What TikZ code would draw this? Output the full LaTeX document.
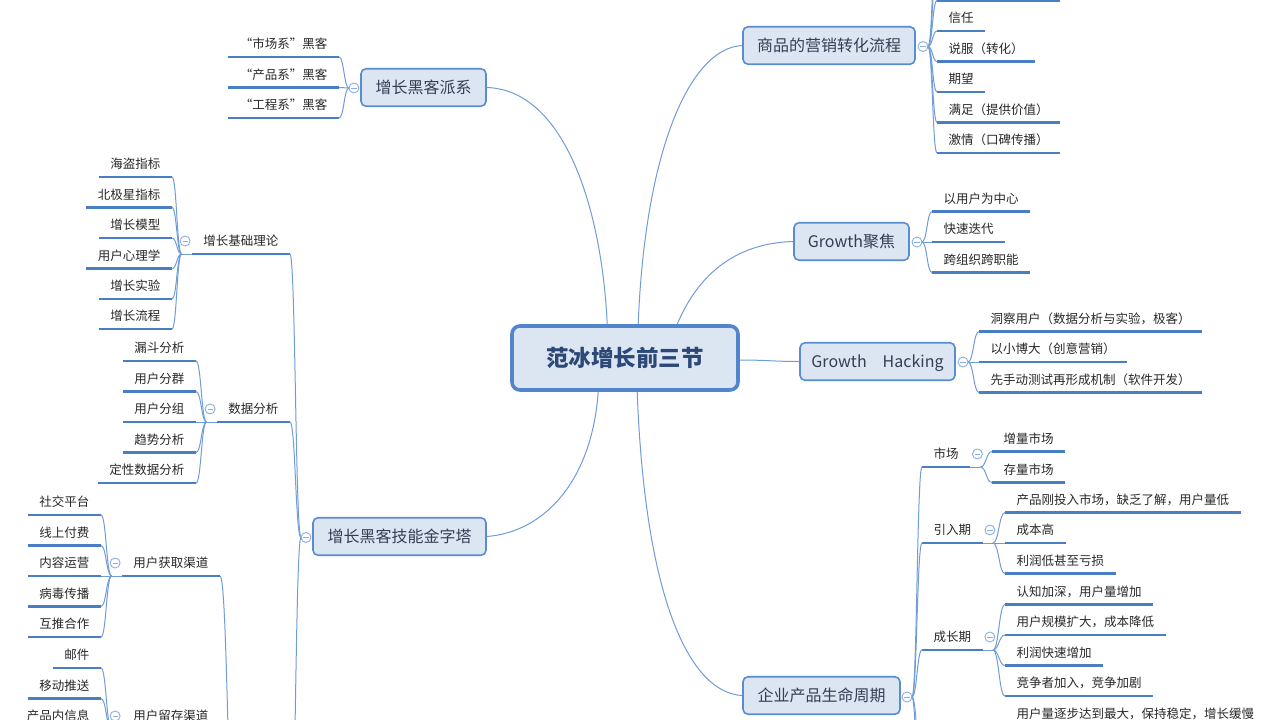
\documentclass[tikz,border=0pt]{standalone}
\usepackage{fontspec}
\setmainfont{Noto Sans CJK SC}
\usetikzlibrary{calc}
\definecolor{conncol}{RGB}{112,156,216}
\definecolor{ulinecol}{RGB}{74,126,196}
\definecolor{boxfill}{RGB}{220,230,243}
\definecolor{boxline}{RGB}{90,140,210}
\definecolor{boxtext}{RGB}{52,62,82}
\definecolor{ctext}{RGB}{45,72,118}
\definecolor{cline}{RGB}{82,133,205}
\definecolor{leaftext}{RGB}{40,40,40}
\definecolor{circcol}{RGB}{140,175,225}
\newcommand\leaffont{\fontsize{12.5pt}{15pt}\selectfont}
\newcommand\boxfont{\fontsize{16pt}{19pt}\selectfont}
\newcommand\centfont{\fontsize{22.5pt}{26pt}\selectfont\bfseries}
\tikzset{
 leaf/.style={font=\leaffont, text=leaftext, inner xsep=11.5pt, inner ysep=7.25pt, text height=10.5pt, text depth=1pt},
 uline/.style={draw=ulinecol, line width=2.8pt},
 conn/.style={draw=conncol, line width=1pt},
 topic/.style={rounded corners=5pt, draw=boxline, line width=1.6pt, fill=boxfill, font=\boxfont, text=boxtext, minimum height=37.5pt, inner sep=0pt, text height=14pt, text depth=1.8pt},
 centre/.style={rounded corners=8pt, draw=cline, line width=3.6pt, fill=boxfill, font=\centfont, text=ctext, inner sep=0pt, text height=19.5pt, text depth=2.4pt},
 coll/.style={circle, draw=circcol, fill=white, line width=0.9pt, minimum size=10pt, inner sep=0pt,
   path picture={\draw[circcol, line width=0.9pt] ([xshift=-2.6pt]path picture bounding box.center) -- ([xshift=2.6pt]path picture bounding box.center);}},
}
\newcommand\leafL[4]{\node[leaf, anchor=south east] (#1) at (#2,#3) {#4}; \draw[uline] (#1.south west) -- (#1.south east);}
\newcommand\leafR[4]{\node[leaf, anchor=south west] (#1) at (#2,#3) {#4}; \draw[uline] (#1.south west) -- (#1.south east);}
\newcommand\brk[2]{\draw[conn] let \p1=(#1), \p2=(#2) in (\p1) .. controls ({0.5*\x1+0.5*\x2},\y1) and ({0.5*\x1+0.5*\x2},\y2) .. (\p2);}
\begin{document}
\begin{tikzpicture}[x=1pt,y=-1pt]
\useasboundingbox (0,0) rectangle (1280,720);
\fill[white] (0,0) rectangle (1280,720);
\clip (0,0) rectangle (1280,720);

% central and main topics
\node[centre, minimum width=226pt, minimum height=64pt] (C) at (625,358) {范冰增长前三节};
\node[topic, minimum width=125pt] (B1) at (423.5,87.5) {增长黑客派系};
\node[topic, minimum width=172pt] (B2) at (829,45.5) {商品的营销转化流程};
\node[topic, minimum width=115pt] (B3) at (851.5,241.5) {Growth聚焦};
\node[topic, minimum width=155pt] (B4) at (877.5,361.5) {Growth　Hacking};
\node[topic, minimum width=173pt] (B5) at (399.5,536.5) {增长黑客技能金字塔};
\node[topic, minimum width=157pt] (B6) at (821.5,695.5) {企业产品生命周期};

\draw[conn] ([xshift=97pt]C.north west) .. controls (602,210) and (565,90) .. (B1.east);
\draw[conn] ([xshift=128pt]C.north west) .. controls (645,150) and (690,48) .. (B2.west);
\draw[conn] ([xshift=167pt]C.north west) .. controls (700,270) and (740,243) .. (B3.west);
\draw[conn] ([yshift=-2pt]C.east) .. controls (765,360) and (775,361.5) .. (B4.west);
\draw[conn] ([xshift=88pt]C.south west) .. controls (592,480) and (545,532) .. (B5.east);
\draw[conn] ([xshift=127pt]C.south west) .. controls (645,600) and (690,693) .. (B6.west);

% collapse circles of main topics
\node[coll] (k1) at (354,88) {};
\node[coll] (k2) at (923,46.5) {};
\node[coll] (k3) at (917,242) {};
\node[coll] (k4) at (963,362) {};
\node[coll] (k5) at (306,537.5) {};
\node[coll] (k6) at (907,697) {};
\coordinate (j1) at (349,88);
\coordinate (j2) at (928,46.5);
\coordinate (j3) at (922,242);
\coordinate (j4) at (968,362);
\coordinate (j5) at (301,537.5);
\coordinate (j6) at (912,697);

% B1
\leafL{a1}{339}{57}{“市场系”黑客}
\leafL{a2}{339}{87.5}{“产品系”黑客}
\leafL{a3}{339}{118}{“工程系”黑客}
\brk{j1}{a1.south east}
\brk{j1}{a2.south east}
\brk{j1}{a3.south east}

% B2
\coordinate (b0) at (937,0.5); \coordinate (b0e) at (1060,0.5);
\draw[uline] (b0) -- (b0e);
\coordinate (bm1) at (937,-30); \coordinate (bm2) at (937,-60.5);
\leafR{b1}{937}{31}{信任}
\leafR{b2}{937}{61.5}{说服（转化）}
\leafR{b3}{937}{92}{期望}
\leafR{b4}{937}{122.5}{满足（提供价值）}
\leafR{b5}{937}{153}{激情（口碑传播）}
\brk{j2}{bm2}
\brk{j2}{bm1}
\brk{j2}{b0}
\brk{j2}{b1.south west}
\brk{j2}{b2.south west}
\brk{j2}{b3.south west}
\brk{j2}{b4.south west}
\brk{j2}{b5.south west}

% B3
\leafR{g1}{932}{211.5}{以用户为中心}
\leafR{g2}{932}{242}{快速迭代}
\leafR{g3}{932}{272.5}{跨组织跨职能}
\brk{j3}{g1.south west}
\brk{j3}{g2.south west}
\brk{j3}{g3.south west}

% B4
\leafR{h1}{979}{331.5}{洞察用户（数据分析与实验，极客）}
\leafR{h2}{979}{362}{以小博大（创意营销）}
\leafR{h3}{979}{392.5}{先手动测试再形成机制（软件开发）}
\brk{j4}{h1.south west}
\brk{j4}{h2.south west}
\brk{j4}{h3.south west}

% B5
\leafL{s1}{290}{254}{增长基础理论}
\leafL{s2}{290}{422}{数据分析}
\coordinate (s9) at (290,860);
\brk{j5}{s1.south east}
\brk{j5}{s2.south east}
\brk{j5}{s9}

% s1 children
\node[coll] (k7) at ([xshift=-6.5pt,yshift=13pt]s1.south west) {};
\coordinate (q1) at ([xshift=-10pt]s1.south west);
\draw[conn] (q1) -- (s1.south west);
\leafL{t1}{172}{177}{海盗指标}
\leafL{t2}{172}{207.5}{北极星指标}
\leafL{t3}{172}{238}{增长模型}
\leafL{t4}{172}{268.5}{用户心理学}
\leafL{t5}{172}{299}{增长实验}
\leafL{t6}{172}{329}{增长流程}
\foreach \nd in {t1,t2,t3,t4,t5,t6}{\brk{q1}{\nd.south east}}

% s2 children
\node[coll] (k8) at ([xshift=-6.5pt,yshift=13pt]s2.south west) {};
\coordinate (q2) at ([xshift=-10pt]s2.south west);
\draw[conn] (q2) -- (s2.south west);
\leafL{d1}{196}{361}{漏斗分析}
\leafL{d2}{196}{391.5}{用户分群}
\leafL{d3}{196}{422}{用户分组}
\leafL{d4}{196}{452.5}{趋势分析}
\leafL{d5}{196}{483}{定性数据分析}
\foreach \nd in {d1,d2,d3,d4,d5}{\brk{q2}{\nd.south east}}

% s3
\leafL{s3}{220}{576}{用户获取渠道}
\coordinate (s3p) at (236,880);
\brk{s3p}{s3.south east}
\node[coll] (k9) at ([xshift=-6.5pt,yshift=13pt]s3.south west) {};
\coordinate (q3) at ([xshift=-10pt]s3.south west);
\draw[conn] (q3) -- (s3.south west);
\leafL{u1}{101}{515}{社交平台}
\leafL{u2}{101}{545.5}{线上付费}
\leafL{u3}{101}{576}{内容运营}
\leafL{u4}{101}{606.5}{病毒传播}
\leafL{u5}{101}{637}{互推合作}
\foreach \nd in {u1,u2,u3,u4,u5}{\brk{q3}{\nd.south east}}

% s4
\leafL{s4}{220}{729}{用户留存渠道}
\node[coll] (k10) at ([xshift=-6.5pt,yshift=13pt]s4.south west) {};
\coordinate (q4) at ([xshift=-10pt]s4.south west);
\draw[conn] (q4) -- (s4.south west);
\leafL{v1}{101}{668}{邮件}
\leafL{v2}{101}{698.5}{移动推送}
\leafL{v3}{101}{729}{产品内信息}
\foreach \nd in {v1,v2,v3}{\brk{q4}{\nd.south east}}

% B6
\leafR{m1}{922}{467}{市场}
\leafR{m2}{922}{543}{引入期}
\leafR{m3}{922}{650}{成长期}
\coordinate (m4) at (922,772);
\coordinate (m5) at (922,880);
\foreach \nd in {m1,m2,m3}{\brk{j6}{\nd.south west}}
\brk{j6}{m4}
\brk{j6}{m5}

% m1
\node[coll] (k11) at ([xshift=7pt,yshift=13pt]m1.south east) {};
\coordinate (r1) at ([xshift=10pt]m1.south east);
\draw[conn] (m1.south east) -- (r1);
\leafR{e1}{992}{451.5}{增量市场}
\leafR{e2}{992}{482.5}{存量市场}
\foreach \nd in {e1,e2}{\brk{r1}{\nd.south west}}

% m2
\node[coll] (k12) at ([xshift=7pt,yshift=13pt]m2.south east) {};
\coordinate (r2) at ([xshift=10pt]m2.south east);
\draw[conn] (m2.south east) -- (r2);
\leafR{f1}{1005}{512.5}{产品刚投入市场，缺乏了解，用户量低}
\leafR{f2}{1005}{543}{成本高}
\leafR{f3}{1005}{573.5}{利润低甚至亏损}
\foreach \nd in {f1,f2,f3}{\brk{r2}{\nd.south west}}

% m3
\node[coll] (k13) at ([xshift=7pt,yshift=13pt]m3.south east) {};
\coordinate (r3) at ([xshift=10pt]m3.south east);
\draw[conn] (m3.south east) -- (r3);
\leafR{p1}{1005}{604.5}{认知加深，用户量增加}
\leafR{p2}{1005}{635}{用户规模扩大，成本降低}
\leafR{p3}{1005}{665.5}{利润快速增加}
\leafR{p4}{1005}{696}{竞争者加入，竞争加剧}
\foreach \nd in {p1,p2,p3,p4}{\brk{r3}{\nd.south west}}

\leafR{n1}{1005}{726.5}{用户量逐步达到最大，保持稳定，增长缓慢}
\end{tikzpicture}
\end{document}
